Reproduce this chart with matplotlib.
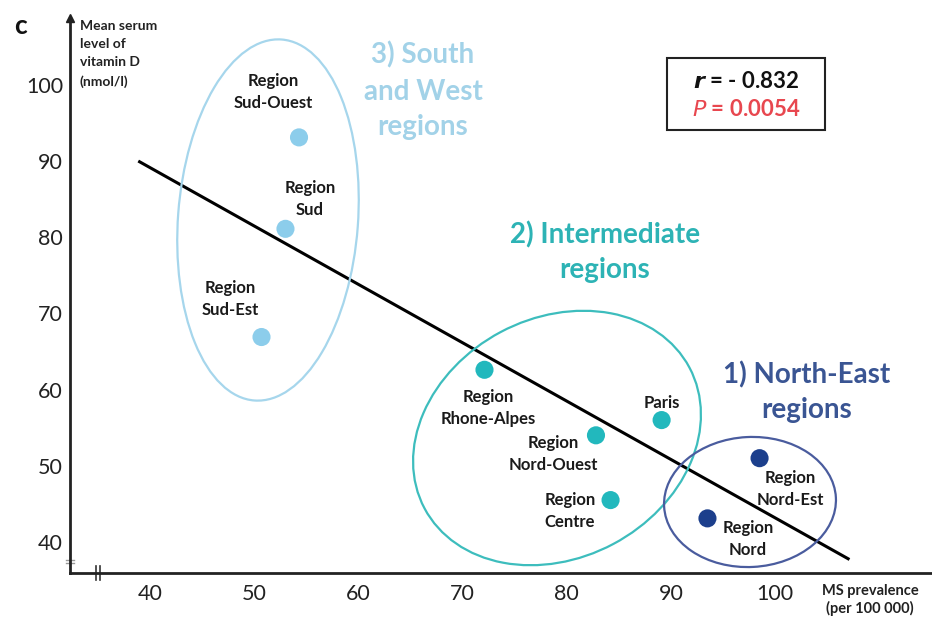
import matplotlib
matplotlib.use("Agg")
import matplotlib.pyplot as plt
from matplotlib.patches import Ellipse, Rectangle

plt.rcParams['font.family'] = ['Lato', 'DejaVu Sans']

# ---------------- data ----------------
regions = ["Region\nSud-Ouest", "Region\nSud", "Region\nSud-Est",
           "Region\nRhone-Alpes", "Paris", "Region\nNord-Ouest", "Region\nCentre",
           "Region\nNord-Est", "Region\nNord"]
ms_prevalence = [54.3, 53.0, 50.7, 72.1, 89.1, 82.8, 84.2, 98.5, 93.5]
vitamin_d = [93.1, 81.1, 66.9, 62.6, 56.0, 54.0, 45.5, 51.0, 43.1]
group = [3, 3, 3, 2, 2, 2, 2, 1, 1]
fit_x = [39.0, 107.0]
fit_y = [89.9, 37.8]
x_ticks = [40, 50, 60, 70, 80, 90, 100]
y_ticks = [40, 50, 60, 70, 80, 90, 100]
r_text = "- 0.832"
p_text = "0.0054"

# ---------------- style ----------------
W, H = 932, 617
fig = plt.figure(figsize=(W / 100, H / 100), dpi=100)
fig.patch.set_facecolor("white")

def fx(px):
    return px / W

def fy(py):
    return 1 - py / H

ax = fig.add_axes([fx(70), fy(573), fx(932) - fx(70), fy(18) - fy(573)])
ax.set_xlim(32.32, 115.05)
ax.set_ylim(35.93, 108.77)

point_colors = {3: "#8ccdeb", 2: "#22b8bd", 1: "#1c3f8c"}
ellipse_colors = {3: "#a6d6ec", 2: "#3dbdbd", 1: "#4a5c9e"}
title_colors = {3: "#a2d2e8", 2: "#2db3b5", 1: "#3a5593"}

for s in ["top", "right"]:
    ax.spines[s].set_visible(False)
for s in ["left", "bottom"]:
    ax.spines[s].set_linewidth(2.0)
    ax.spines[s].set_color("#222222")
ax.set_xticks(x_ticks)
ax.set_yticks(y_ticks)
ax.tick_params(length=0, labelsize=15.5, colors="#222222")
ax.tick_params(axis="x", pad=8)
ax.tick_params(axis="y", pad=5)
ax.patch.set_alpha(0)

# y-axis arrow head
ax.plot([0], [1], marker="^", color="#222222", markersize=6,
        transform=ax.transAxes, clip_on=False)

# axis break marks
ax.plot([0.03, 0.03], [-0.012, 0.012], color="#333333", lw=1.2, transform=ax.transAxes, clip_on=False)
ax.plot([0.0345, 0.0345], [-0.012, 0.012], color="#333333", lw=1.2, transform=ax.transAxes, clip_on=False)
ax.plot([-0.005, 0.005], [0.018, 0.018], color="#999999", lw=1.0, transform=ax.transAxes, clip_on=False)
ax.plot([-0.005, 0.005], [0.024, 0.024], color="#999999", lw=1.0, transform=ax.transAxes, clip_on=False)

# regression line
ax.plot(fit_x, fit_y, color="black", lw=2.2, zorder=3)

# points
for x, y, g in zip(ms_prevalence, vitamin_d, group):
    ax.scatter([x], [y], s=170, color=point_colors[g], edgecolors="none", zorder=4)

# ellipses (display-space shapes, in pixels)
def pix_ellipse(cx, cy, w, h, angle, color):
    e = Ellipse((cx / 100, (H - cy) / 100), w / 100, h / 100, angle=angle,
                transform=fig.dpi_scale_trans, fill=False, edgecolor=color, lw=1.6)
    fig.add_artist(e)

pix_ellipse(268, 220, 180, 362, -4.3, ellipse_colors[3])
pix_ellipse(557, 438, 300, 240, 28, ellipse_colors[2])
pix_ellipse(750, 502, 172, 130, 3, ellipse_colors[1])

# region labels (pixel positions)
label_pos = [(273, 92), (310, 199), (230, 299), (488, 408), (662, 403),
             (553, 454), (570, 511), (790, 489), (748, 539)]
for name, (px, py) in zip(regions, label_pos):
    fig.text(fx(px), fy(py), name, ha="center", va="center", fontsize=12,
             fontweight="bold", color="#1a1a1a", linespacing=1.42)

# group titles
fig.text(fx(423), fy(91), "3) South\nand West\nregions", ha="center", va="center",
         fontsize=20, fontweight="bold", color=title_colors[3], linespacing=1.46)
fig.text(fx(605), fy(252), "2) Intermediate\nregions", ha="center", va="center",
         fontsize=20, fontweight="bold", color=title_colors[2], linespacing=1.38)
fig.text(fx(807), fy(392), "1) North-East\nregions", ha="center", va="center",
         fontsize=20, fontweight="bold", color=title_colors[1], linespacing=1.38)

# stats box
fig.add_artist(Rectangle((fx(667), fy(130)), fx(825) - fx(667), fy(58) - fy(130),
                         transform=fig.transFigure, fill=False, edgecolor="#222222", lw=1.5))
fig.text(fx(746), fy(82), r"$\mathbfit{r}$" + " = " + r_text, ha="center", va="center",
         fontsize=16, fontweight="bold", color="#111111")
fig.text(fx(746), fy(110), r"$\mathit{P}$" + " = " + p_text, ha="center", va="center",
         fontsize=16, fontweight="bold", color="#e8474f")

# axis labels
fig.text(fx(80), fy(54), "Mean serum\nlevel of\nvitamin D\n(nmol/l)", ha="left", va="center",
         fontsize=10, fontweight="bold", color="#222222", linespacing=1.6)
fig.text(fx(870), fy(600), "MS prevalence\n(per 100 000)", ha="center", va="center",
         fontsize=10.5, fontweight="bold", color="#222222", linespacing=1.17)
fig.text(fx(14), fy(26), "c", ha="left", va="center", fontsize=19, fontweight="bold",
         color="#111111")

fig.savefig("out.png", dpi=100)
